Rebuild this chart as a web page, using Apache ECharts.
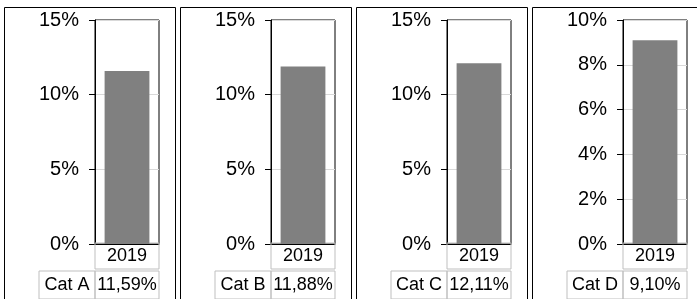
<!DOCTYPE html>
<html>
<head>
<meta charset="utf-8">
<script src="https://cdn.jsdelivr.net/npm/echarts@6/dist/echarts.min.js"></script>
<style>
html, body { margin: 0; padding: 0; background: #fff; }
#chart { width: 697px; height: 299px; }
</style>
</head>
<body>
<div id="chart"></div>
<script>
var categories = ['Cat A', 'Cat B', 'Cat C', 'Cat D'];
var years = ['2019'];
var values = [11.59, 11.88, 12.11, 9.10];
var axisMax = [15, 15, 15, 10];
var axisStep = [5, 5, 5, 2];

var myChart = echarts.init(document.getElementById('chart'));
var font = 'Liberation Sans, Arial, sans-serif';
var pitch = 176; // distance between two panels

function fmtPct(v) {
    return v.toFixed(2).replace('.', ',') + '%';
}

var grid = [], xAxis = [], yAxis = [], series = [], graphic = [];

categories.forEach(function(cat, i) {
    // outer frame of each small chart
    graphic.push({
        type: 'rect',
        silent: true,
        shape: { x: 4.5 + pitch * i, y: 7.5, width: 171, height: 320 },
        style: { fill: 'none', stroke: '#000', lineWidth: 1 }
    });

    grid.push({
        left: 95 + pitch * i,
        top: 20,
        width: 64,
        height: 224,
        containLabel: false,
        outerBoundsMode: 'none',
        show: true,
        borderColor: '#000',
        borderWidth: 1
    });

    // year row of the data table
    xAxis.push({
        gridIndex: i,
        type: 'category',
        data: years,
        axisLine: { show: true, lineStyle: { color: '#000' } },
        axisTick: { show: false },
        axisLabel: {
            margin: 0,
            formatter: function(v) { return '{yr|' + v + '}'; },
            rich: {
                yr: {
                    width: 64, height: 26, lineHeight: 24,
                    align: 'center',
                    borderColor: '#bfbfbf', borderWidth: 1,
                    fontSize: 18, fontFamily: font, color: '#000'
                }
            }
        }
    });

    // name + value row of the data table
    xAxis.push({
        gridIndex: i,
        type: 'category',
        position: 'bottom',
        offset: 27,
        data: years,
        axisLine: { show: false },
        axisTick: { show: false },
        axisLabel: {
            margin: 0,
            formatter: function() {
                return '{nm|' + cat + '}{val|' + fmtPct(values[i]) + '}{pad| }';
            },
            rich: {
                nm: {
                    width: 56, height: 28, lineHeight: 28,
                    align: 'center',
                    borderColor: '#bfbfbf', borderWidth: 1,
                    fontSize: 18, fontFamily: font, color: '#000'
                },
                val: {
                    width: 64, height: 28, lineHeight: 28,
                    align: 'center',
                    borderColor: '#bfbfbf', borderWidth: 1,
                    fontSize: 18, fontFamily: font, color: '#000'
                },
                pad: { width: 56, height: 28 }
            }
        }
    });

    yAxis.push({
        gridIndex: i,
        type: 'value',
        min: 0,
        max: axisMax[i],
        interval: axisStep[i],
        axisLine: { show: true, lineStyle: { color: '#000' } },
        axisTick: { show: true, length: 6, lineStyle: { color: '#000' } },
        axisLabel: {
            margin: 16,
            formatter: '{value}%',
            fontSize: 20,
            fontFamily: font,
            color: '#000'
        },
        splitLine: { show: true, lineStyle: { color: '#d9d9d9' } }
    });

    series.push({
        type: 'bar',
        xAxisIndex: 2 * i,
        yAxisIndex: i,
        barWidth: '70%',
        itemStyle: { color: '#808080' },
        data: [values[i]]
    });
});

var option = {
    animation: false,
    backgroundColor: '#fff',
    graphic: graphic,
    grid: grid,
    xAxis: xAxis,
    yAxis: yAxis,
    series: series
};

myChart.setOption(option);
</script>
</body>
</html>
